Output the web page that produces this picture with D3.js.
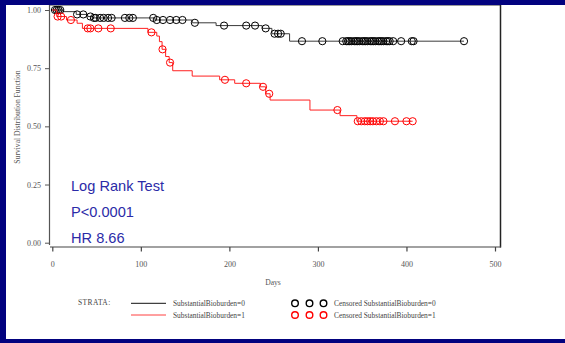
<!DOCTYPE html>
<html><head><meta charset="utf-8">
<script src="https://cdn.jsdelivr.net/npm/d3@7/dist/d3.min.js"></script>
<style>
html,body{margin:0;padding:0;background:#02027f;}
svg{display:block;}
</style></head>
<body>
<svg id="chart" width="565" height="343"></svg>
<script>
// ---- data ----
const xTicks = [0, 100, 200, 300, 400, 500];
const yTicks = [0, 0.25, 0.5, 0.75, 1.0];
const strataNames = ["SubstantialBioburden=0", "SubstantialBioburden=1"];
const censoredNames = ["Censored SubstantialBioburden=0", "Censored SubstantialBioburden=1"];
const statLines = ["Log Rank Test", "P<0.0001", "HR 8.66"];

const eventDays0 = [0, 12, 27, 40, 46, 116, 158, 185, 237, 248, 268];
const survival0  = [1.000, 0.993, 0.981, 0.972, 0.966, 0.957, 0.945, 0.933, 0.921, 0.898, 0.866];
const censorDays0 = [3, 5, 7, 9, 28, 35, 43, 47, 49, 54, 58, 63, 67, 82, 87, 91, 114,
  118, 125, 133, 140, 147, 161, 194, 219, 229, 241, 251, 255, 258, 282, 305,
  328, 332, 334, 336, 338, 341, 343, 345, 347, 350, 352, 354, 356, 359, 361, 363,
  365, 368, 370, 372, 374, 377, 379, 381, 385, 394, 406, 408, 465];

const eventDays1 = [0, 5, 16, 28, 34, 108, 118, 121, 124, 128, 132, 136, 158, 189, 206, 235, 241, 246, 291, 325, 344];
const survival1  = [1.000, 0.972, 0.957, 0.943, 0.921, 0.904, 0.888, 0.864, 0.831, 0.800, 0.774, 0.739, 0.716, 0.700, 0.685, 0.670, 0.640, 0.613, 0.570, 0.546, 0.522];
const censorDays1 = [6, 10, 21, 40, 43, 52, 66, 112, 124.5, 133, 195, 219, 238, 245, 322,
  345, 349, 353, 356, 359, 362, 366, 370, 374, 387, 400, 407];

// ---- drawing ----
const svg = d3.select("#chart");
svg.append("rect").attr("x", 6).attr("y", 5).attr("width", 559).attr("height", 334).attr("fill", "#ffffff");

const x = d3.scaleLinear().domain([0, 500]).range([52.3, 495]);
const y = d3.scaleLinear().domain([0, 1]).range([242.7, 10]);

const serif = "'Liberation Serif','Times New Roman',serif";

// frame
svg.append("line").attr("x1", 49).attr("x2", 500).attr("y1", 5.5).attr("y2", 5.5).attr("stroke", "#9a9a9a").attr("stroke-width", 1);
svg.append("line").attr("x1", 500.5).attr("x2", 500.5).attr("y1", 5).attr("y2", 247.5).attr("stroke", "#222").attr("stroke-width", 1.5);
svg.append("line").attr("x1", 49.5).attr("x2", 49.5).attr("y1", 5).attr("y2", 245).attr("stroke", "#555").attr("stroke-width", 1.2);
svg.append("line").attr("x1", 50).attr("x2", 501).attr("y1", 247).attr("y2", 247).attr("stroke", "#444").attr("stroke-width", 1.2);

// y axis
const yAxis = d3.axisLeft(y).tickValues(yTicks).tickFormat(d3.format(".2f")).tickSize(4).tickSizeOuter(0).tickPadding(4);
const gy = svg.append("g").attr("transform", "translate(49,0)").call(yAxis);
gy.select(".domain").remove();
gy.selectAll(".tick line").attr("stroke", "#555");
gy.selectAll(".tick text").attr("font-family", serif).attr("font-size", 8).attr("fill", "#555");

// x axis
const xAxis = d3.axisBottom(x).tickValues(xTicks).tickFormat(d3.format("d")).tickSize(4.5).tickSizeOuter(0).tickPadding(10);
const gx = svg.append("g").attr("transform", "translate(0,247)").call(xAxis);
gx.select(".domain").remove();
gx.selectAll(".tick line").attr("stroke", "#444").attr("stroke-width", 1.2);
gx.selectAll(".tick text").attr("font-family", serif).attr("font-size", 8).attr("fill", "#555");

// axis titles
svg.append("text").attr("transform", "translate(19.5,117) rotate(-90)").attr("text-anchor", "middle")
  .attr("font-family", serif).attr("font-size", 7.6).attr("fill", "#555").text("Survival Distribution Function");
svg.append("text").attr("x", 273).attr("y", 285).attr("text-anchor", "middle")
  .attr("font-family", serif).attr("font-size", 7.6).attr("fill", "#555").text("Days");

// curves
const groups = [
  {ev: eventDays0, s: survival0, c: censorDays0, color: "#000000", line: "#3a3a3a"},
  {ev: eventDays1, s: survival1, c: censorDays1, color: "#ff0000", line: "#ff2020"}
];
const stepLine = d3.line().x(d => x(d[0])).y(d => y(d[1])).curve(d3.curveStepAfter);
const bis = d3.bisector(d => d).right;

groups.forEach(g => {
  const pts = g.ev.map((d, i) => [d, g.s[i]]);
  const lastDay = d3.max(g.c);
  pts.push([lastDay, g.s[g.s.length - 1]]);
  svg.append("path").attr("d", stepLine(pts)).attr("fill", "none").attr("stroke", g.line).attr("stroke-width", 1);
  svg.append("g").selectAll("circle").data(g.c).join("circle")
    .attr("cx", d => x(d))
    .attr("cy", d => y(g.s[bis(g.ev, d) - 1]))
    .attr("r", 3.6)
    .attr("fill", "none")
    .attr("stroke", g.color)
    .attr("stroke-width", 1);
});

// stats text
statLines.forEach((t, i) => {
  svg.append("text").attr("x", 71).attr("y", [190.7, 216.5, 242.7][i])
    .attr("font-family", "'Liberation Sans',Arial,sans-serif").attr("font-size", 14.6)
    .attr("fill", "#2b2ba8").text(t);
});

// legend
svg.append("text").attr("x", 78).attr("y", 305).attr("font-family", serif).attr("font-size", 7.5)
  .attr("fill", "#444").attr("letter-spacing", 0.4).text("STRATA:");
const legColors = ["#000000", "#ff0000"];
const legLine = ["#111", "#ff4040"];
const legY = [303.3, 315];
strataNames.forEach((n, i) => {
  svg.append("line").attr("x1", 131).attr("x2", 166).attr("y1", legY[i]).attr("y2", legY[i])
    .attr("stroke", legLine[i]).attr("stroke-width", 1);
  svg.append("text").attr("x", 173).attr("y", legY[i] + 2.5).attr("font-family", serif).attr("font-size", 7.4)
    .attr("fill", "#444").text(n);
  [295, 309.5, 323.5].forEach(cx => {
    svg.append("circle").attr("cx", cx).attr("cy", legY[i]).attr("r", 3.3).attr("fill", "none")
      .attr("stroke", legColors[i]).attr("stroke-width", 1.4);
  });
  svg.append("text").attr("x", 334).attr("y", legY[i] + 2.5).attr("font-family", serif).attr("font-size", 7.4)
    .attr("fill", "#444").text(censoredNames[i]);
});
</script>
</body></html>
